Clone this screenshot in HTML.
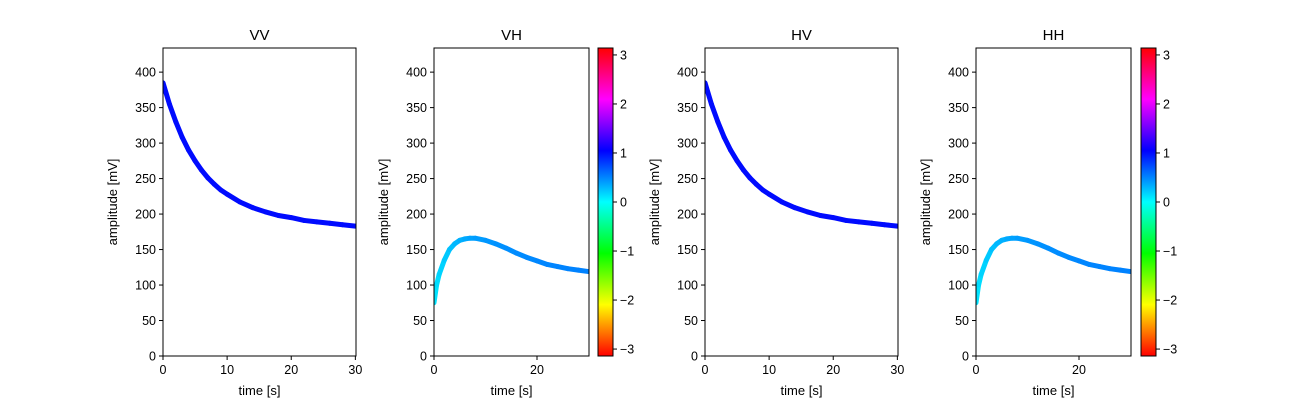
<!DOCTYPE html>
<html><head><meta charset="utf-8"><style>
body{margin:0;background:#fff;}
svg text{font-family:"Liberation Sans","DejaVu Sans",sans-serif;fill:#000;}
</style></head><body>
<svg id="fig" width="1300" height="400" xmlns="http://www.w3.org/2000/svg">
<defs>
<linearGradient id="hsvgrad" x1="0" y1="1" x2="0" y2="0">
<stop offset="0" stop-color="#ff0000"/><stop offset="0.1667" stop-color="#ffff00"/><stop offset="0.3333" stop-color="#00ff00"/><stop offset="0.5" stop-color="#00ffff"/><stop offset="0.6667" stop-color="#0000ff"/><stop offset="0.8333" stop-color="#ff00ff"/><stop offset="1" stop-color="#ff0000"/>
</linearGradient>
<clipPath id="c0"><rect x="163" y="48" width="193" height="308"/></clipPath>
<clipPath id="c1"><rect x="434" y="48" width="155" height="308"/></clipPath>
<clipPath id="c2"><rect x="705" y="48" width="193" height="308"/></clipPath>
<clipPath id="c3"><rect x="976" y="48" width="155" height="308"/></clipPath>
</defs>
</svg>
<script>
const vvTime=[0,1,2,3,4,5,6,7,8,9,10,12,14,16,18,20,22,24,26,28,30];
const vvAmp=[385,355,330,308,290,275,262,251,242,234,228,217,209,203,198,195,191,189,187,185,183];
const vvPhase=[1.0,1.0,1.0,1.0,1.0,1.0,1.0,1.0,1.0,1.0,1.0,1.0,1.0,1.0,1.0,1.0,1.0,1.0,1.0,1.0,1.0];
const vhTime=[0,0.5,1,2,3,4,5,6,7,8,10,12,14,16,18,20,22,24,26,28,30];
const vhAmp=[75,100,115,135,150,158,163,165,166,166,163,158,152,145,139,134,129,126,123,121,119];
const vhPhase=[0.1,0.13,0.16,0.2,0.24,0.28,0.31,0.34,0.37,0.39,0.42,0.44,0.46,0.47,0.48,0.49,0.5,0.5,0.51,0.51,0.52];
const yTicks=[0,50,100,150,200,250,300,350,400];
const cbTicks=[-3,-2,-1,0,1,2,3];
const panels=[
 {title:'VV',x0:163,x1:356,xt:[0,10,20,30],t:vvTime,a:vvAmp,p:vvPhase,cb:null},
 {title:'VH',x0:434,x1:589,xt:[0,20],t:vhTime,a:vhAmp,p:vhPhase,cb:598},
 {title:'HV',x0:705,x1:898,xt:[0,10,20,30],t:vvTime,a:vvAmp,p:vvPhase,cb:null},
 {title:'HH',x0:976,x1:1131,xt:[0,20],t:vhTime,a:vhAmp,p:vhPhase,cb:1141}
];
const Y0=356,Y1=48,YMAX=434,XMAX=30.1,PI=Math.PI;
const svg=document.getElementById('fig');
const NS='http://www.w3.org/2000/svg';
function mk(tag,at,parent){const e=document.createElementNS(NS,tag);for(const k in at)e.setAttribute(k,at[k]);(parent||svg).appendChild(e);return e;}
function hsv(ph){let f=(ph+PI)/(2*PI);let h=f*6;let i=Math.floor(h)%6,fr=h-Math.floor(h);let q=1-fr,t=fr;let rgb=[[1,t,0],[q,1,0],[0,1,t],[0,q,1],[t,0,1],[1,0,q]][i];return 'rgb('+rgb.map(v=>Math.round(v*255)).join(',')+')';}
const ys=v=>Y0-(v/YMAX)*(Y0-Y1);
panels.forEach((P,pi)=>{
 const g=mk('g',{});
 
 
 const xs=v=>P.x0+(v/XMAX)*(P.x1-P.x0);
 const curve=mk('g',{'clip-path':'url(#c'+pi+')'},g);
 
 
 for(let i=0;i<P.t.length-1;i++){
  const s=mk('line',{x1:xs(P.t[i]),y1:ys(P.a[i]),x2:xs(P.t[i+1]),y2:ys(P.a[i+1]),stroke:hsv((P.p[i]+P.p[i+1])/2),'stroke-width':5,'stroke-linecap':'round'},curve);
  
  
 }
 const frame=mk('rect',{x:P.x0,y:Y1,width:P.x1-P.x0,height:Y0-Y1,fill:'none',stroke:'#000','stroke-width':1},g);
 
 
 yTicks.forEach(v=>{
  const y=ys(v);
  mk('line',{x1:P.x0-4,x2:P.x0,y1:y,y2:y,stroke:'#000'},g);
  const tx=mk('text',{x:P.x0-7,y:y+4.5,'text-anchor':'end','font-size':12.5},g);
  tx.textContent=v;
  
  
 });
 P.xt.forEach(v=>{
  const x=xs(v);
  mk('line',{x1:x,x2:x,y1:Y0,y2:Y0+4,stroke:'#000'},g);
  const tx=mk('text',{x:x,y:Y0+18,'text-anchor':'middle','font-size':12.5},g);
  tx.textContent=v;
  
  
 });
 const tt=mk('text',{x:(P.x0+P.x1)/2,y:40,'text-anchor':'middle','font-size':15},g);
 tt.textContent=P.title;
 
 
 const xl=mk('text',{x:(P.x0+P.x1)/2,y:395,'text-anchor':'middle','font-size':13},g);
 xl.textContent='time [s]';
 
 
 const yl=mk('text',{x:0,y:0,'text-anchor':'middle','font-size':13,transform:'translate('+(P.x0-46)+','+((Y0+Y1)/2)+') rotate(-90)'},g);
 yl.textContent='amplitude [mV]';
 
 
 if(P.cb){
  const cb=mk('g',{},g);
  
  
  mk('rect',{x:P.cb,y:Y1,width:15,height:Y0-Y1,fill:'url(#hsvgrad)',stroke:'#000','stroke-width':1},cb);
  cbTicks.forEach(v=>{
   const y=Y0-((v+PI)/(2*PI))*(Y0-Y1);
   mk('line',{x1:P.cb+15,x2:P.cb+19,y1:y,y2:y,stroke:'#000'},cb);
   const tx=mk('text',{x:P.cb+22,y:y+4.5,'font-size':12.5},cb);
   tx.textContent=v<0?'\u2212'+(-v):String(v);
   
   
  });
 }
});
</script>
</body></html>
